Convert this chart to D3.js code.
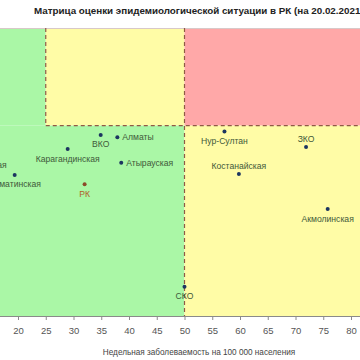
<!DOCTYPE html>
<html><head><meta charset="utf-8">
<script src="https://cdn.jsdelivr.net/npm/d3@7"></script>
<style>html,body{margin:0;padding:0;background:#fff;overflow:hidden}</style>
</head><body>
<script>
// ---- data ----
const regions = ["Павлодарская","Алматинская","Карагандинская","РК","ВКО","Алматы","Атырауская","СКО","Нур-Султан","Костанайская","ЗКО","Акмолинская"];
const incidence = [12.8, 19.4, 28.95, 32.0, 34.9, 37.9, 38.6, 50.0, 57.2, 59.8, 71.9, 75.8];
const rt = [0.938, 0.899, 0.952, 0.880, 0.981, 0.976, 0.924, 0.670, 0.988, 0.901, 0.956, 0.829];
const labelPlace = ["below","below","below","below","below","right","right","below","below","above","above","below"];
const xTicks = [20,25,30,35,40,45,50,55,60,65,70,75,80];
const xThresholds = [25, 50];
const yThreshold = 1.0;
const titleText = "Матрица оценки эпидемиологической ситуации в РК (на 20.02.2021)";
const xTitle = "Недельная заболеваемость на 100 000 населения";

const W = 360, H = 360;
const svg = d3.select("body").append("svg").attr("width", W).attr("height", H)
  .style("font-family", "Arial, 'Liberation Sans', sans-serif");

const x = d3.scaleLinear().domain([0, 85]).range([-93, 378.75]);
const y = d3.scaleLinear().domain([0.61, 1.2]).range([316, 28]);
const [x0, x1] = x.range();
const [yb, yt] = y.range();

const green = "#aaf7a6", yellow = "#fffca6", red = "#ffa8a8";
const zones = [
  {a: 0, b: xThresholds[0], lo: yThreshold, hi: 1.2, c: green},
  {a: xThresholds[0], b: xThresholds[1], lo: yThreshold, hi: 1.2, c: yellow},
  {a: xThresholds[1], b: 85, lo: yThreshold, hi: 1.2, c: red},
  {a: 0, b: xThresholds[1], lo: 0.61, hi: yThreshold, c: green},
  {a: xThresholds[1], b: 85, lo: 0.61, hi: yThreshold, c: yellow}
];
svg.selectAll("rect.zone").data(zones).join("rect").attr("class","zone")
  .attr("x", d => x(d.a)).attr("width", d => x(d.b) - x(d.a))
  .attr("y", d => y(d.hi)).attr("height", d => y(d.lo) - y(d.hi))
  .attr("fill", d => d.c);

// top border
svg.append("line").attr("x1", x0).attr("x2", x1).attr("y1", yt + 0.5).attr("y2", yt + 0.5)
  .attr("stroke", "#d8c8c8").attr("stroke-width", 1);

// dashed threshold lines
const dashC = "#8f5a45";
svg.append("line").attr("x1", x(xThresholds[0])).attr("x2", x(xThresholds[0]))
  .attr("y1", yt).attr("y2", y(yThreshold))
  .attr("stroke", dashC).attr("stroke-width", 1.2).attr("stroke-dasharray", "4,3");
svg.append("line").attr("x1", x(xThresholds[1])).attr("x2", x(xThresholds[1]))
  .attr("y1", yt).attr("y2", yb)
  .attr("stroke", dashC).attr("stroke-width", 1.2).attr("stroke-dasharray", "4,3");
svg.append("line").attr("x1", x(xThresholds[0])).attr("x2", x1)
  .attr("y1", y(yThreshold)).attr("y2", y(yThreshold))
  .attr("stroke", dashC).attr("stroke-width", 1.2).attr("stroke-dasharray", "4,3");

// x axis
const ax = svg.append("g").attr("transform", `translate(0,${yb})`)
  .call(d3.axisBottom(x).tickValues(xTicks).tickSize(4).tickPadding(7).tickSizeOuter(0));
ax.select(".domain").attr("stroke", "#8a8a8a");
ax.selectAll(".tick line").attr("stroke", "#8a8a8a");
ax.selectAll(".tick text").attr("fill", "#555").style("font-size", "9.5px")
  .style("font-family", "Arial, 'Liberation Sans', sans-serif");

svg.append("text").attr("x", 199).attr("y", 355).attr("text-anchor", "middle")
  .attr("fill", "#444").style("font-size", "8.2px").text(xTitle);

// title
svg.append("text").attr("x", 34).attr("y", 14).attr("fill", "#222")
  .style("font-size", "9.8px").style("font-weight", "bold").text(titleText);

// points
const pts = regions.map((r, i) => ({name: r, x: incidence[i], y: rt[i], pos: labelPlace[i]}));
const g = svg.append("g");
g.selectAll("circle").data(pts).join("circle")
  .attr("cx", d => x(d.x)).attr("cy", d => y(d.y)).attr("r", 2)
  .attr("fill", d => d.name === "РК" ? "#8b4a2a" : "#1c3560");
g.selectAll("text").data(pts).join("text")
  .attr("x", d => d.pos === "right" ? x(d.x) + 5 : x(d.x))
  .attr("y", d => d.pos === "below" ? y(d.y) + 12.5 : d.pos === "above" ? y(d.y) - 5 : y(d.y) + 3)
  .attr("text-anchor", d => d.pos === "right" ? "start" : "middle")
  .attr("fill", d => d.name === "РК" ? "#b0602a" : "#3f5a3a")
  .style("font-size", "8.6px").text(d => d.name);
</script>
</body></html>
